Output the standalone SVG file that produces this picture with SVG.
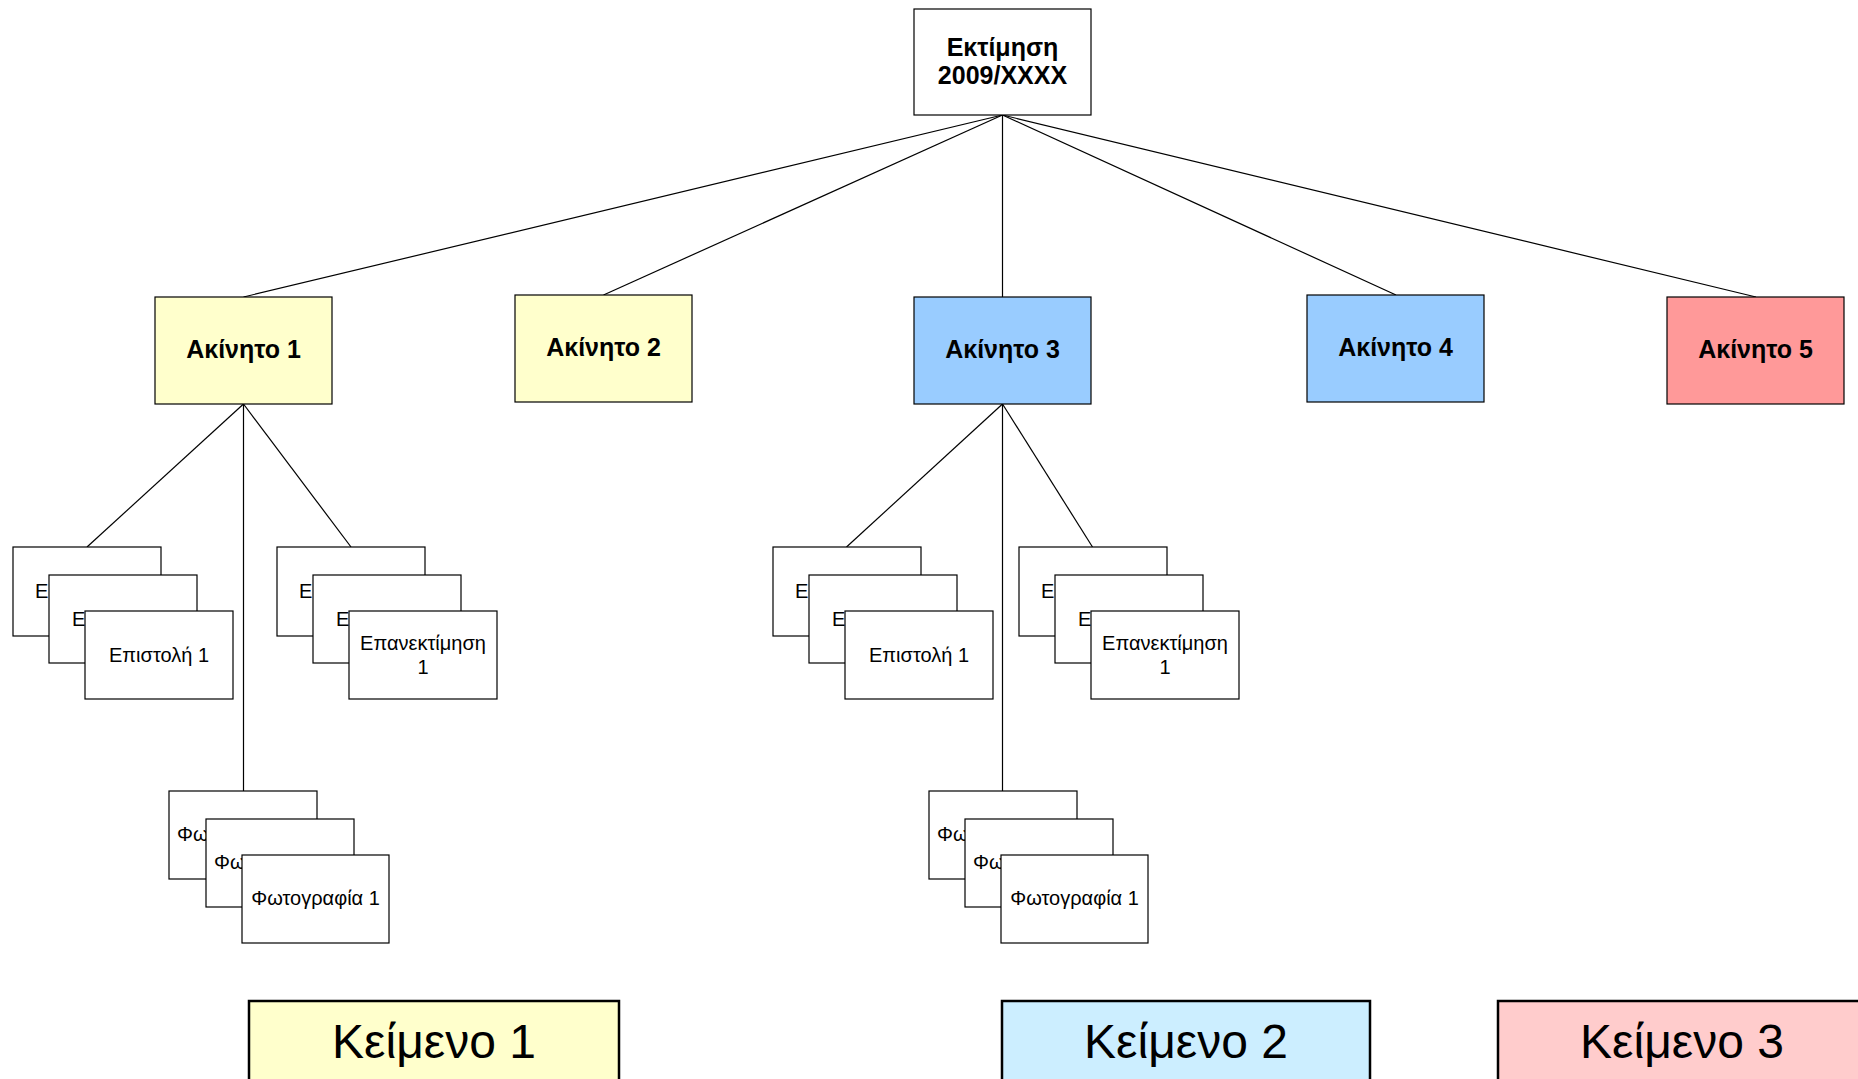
<svg xmlns="http://www.w3.org/2000/svg" width="1858" height="1079" viewBox="0 0 1858 1079">
<defs>
<style>
.box{stroke:#000;stroke-width:1.2}
.w{fill:#fff}
.y{fill:#ffffcc}
.b{fill:#99ccff}
.r{fill:#ff9999}
.lg{stroke:#000;stroke-width:2.5}
.t{font-family:"Liberation Sans",Arial,sans-serif;fill:#000}
.bold{font-weight:bold;font-size:25px;text-anchor:middle}
.sm{font-size:20px}
.mid{text-anchor:middle}
.big{font-size:48px;text-anchor:middle}
.conn line{stroke:#000;stroke-width:1.2}
</style>
</defs>
<rect width="1858" height="1079" fill="#fff"/>
<g id="connectors" class="conn">
<line x1="1002.5" y1="115" x2="243.5" y2="297"/>
<line x1="1002.5" y1="115" x2="603.5" y2="295"/>
<line x1="1002.5" y1="115" x2="1002.5" y2="297"/>
<line x1="1002.5" y1="115" x2="1396" y2="295"/>
<line x1="1002.5" y1="115" x2="1756" y2="297"/>
<line x1="243.5" y1="404" x2="87" y2="547"/>
<line x1="243.5" y1="404" x2="351" y2="547"/>
<line x1="243.5" y1="404" x2="243.5" y2="791"/>
<line x1="1002.5" y1="404" x2="846.5" y2="547"/>
<line x1="1002.5" y1="404" x2="1092.5" y2="547"/>
<line x1="1002.5" y1="404" x2="1002.5" y2="791"/>
</g>
<g id="root">
<rect class="box w" x="914" y="9" width="177" height="106"/>
<text class="t bold" x="1002.5" y="56">Εκτίμηση</text>
<text class="t bold" x="1002.5" y="84">2009/XXXX</text>
</g>
<g id="akinito1">
<rect class="box y" x="155" y="297" width="177" height="107"/>
<text class="t bold" x="243.5" y="358">Ακίνητο 1</text>
</g>
<g id="akinito2">
<rect class="box y" x="515" y="295" width="177" height="107"/>
<text class="t bold" x="603.5" y="356">Ακίνητο 2</text>
</g>
<g id="akinito3">
<rect class="box b" x="914" y="297" width="177" height="107"/>
<text class="t bold" x="1002.5" y="358">Ακίνητο 3</text>
</g>
<g id="akinito4">
<rect class="box b" x="1307" y="295" width="177" height="107"/>
<text class="t bold" x="1395.5" y="356">Ακίνητο 4</text>
</g>
<g id="akinito5">
<rect class="box r" x="1667" y="297" width="177" height="107"/>
<text class="t bold" x="1755.5" y="358">Ακίνητο 5</text>
</g>
<g id="epistoli-stack-1">
<rect class="box w" x="13" y="547" width="148" height="89"/>
<text class="t sm" x="35" y="598">Ε</text>
<rect class="box w" x="49" y="575" width="148" height="88"/>
<text class="t sm" x="72" y="626">Ε</text>
<rect class="box w" x="85" y="611" width="148" height="88"/>
<text class="t sm mid" x="159" y="662">Επιστολή 1</text>
</g>
<g id="epanektimisi-stack-1">
<rect class="box w" x="277" y="547" width="148" height="89"/>
<text class="t sm" x="299" y="598">Ε</text>
<rect class="box w" x="313" y="575" width="148" height="88"/>
<text class="t sm" x="336" y="626">Ε</text>
<rect class="box w" x="349" y="611" width="148" height="88"/>
<text class="t sm mid" x="423" y="650">Επανεκτίμηση</text>
<text class="t sm mid" x="423" y="674">1</text>
</g>
<g id="foto-stack-1">
<rect class="box w" x="169" y="791" width="148" height="88"/>
<text class="t sm" x="177" y="841">Φω</text>
<rect class="box w" x="206" y="819" width="148" height="88"/>
<text class="t sm" x="214" y="869">Φω</text>
<rect class="box w" x="242" y="855" width="147" height="88"/>
<text class="t sm mid" x="315.5" y="905">Φωτογραφία 1</text>
</g>
<g id="epistoli-stack-3">
<rect class="box w" x="773" y="547" width="148" height="89"/>
<text class="t sm" x="795" y="598">Ε</text>
<rect class="box w" x="809" y="575" width="148" height="88"/>
<text class="t sm" x="832" y="626">Ε</text>
<rect class="box w" x="845" y="611" width="148" height="88"/>
<text class="t sm mid" x="919" y="662">Επιστολή 1</text>
</g>
<g id="epanektimisi-stack-3">
<rect class="box w" x="1019" y="547" width="148" height="89"/>
<text class="t sm" x="1041" y="598">Ε</text>
<rect class="box w" x="1055" y="575" width="148" height="88"/>
<text class="t sm" x="1078" y="626">Ε</text>
<rect class="box w" x="1091" y="611" width="148" height="88"/>
<text class="t sm mid" x="1165" y="650">Επανεκτίμηση</text>
<text class="t sm mid" x="1165" y="674">1</text>
</g>
<g id="foto-stack-3">
<rect class="box w" x="929" y="791" width="148" height="88"/>
<text class="t sm" x="937" y="841">Φω</text>
<rect class="box w" x="965" y="819" width="148" height="88"/>
<text class="t sm" x="973" y="869">Φω</text>
<rect class="box w" x="1001" y="855" width="147" height="88"/>
<text class="t sm mid" x="1074.5" y="905">Φωτογραφία 1</text>
</g>
<g id="legend-1">
<rect class="lg" fill="#ffffcc" x="249" y="1001" width="370" height="90"/>
<text class="t big" x="434" y="1058">Κείμενο 1</text>
</g>
<g id="legend-2">
<rect class="lg" fill="#cceeff" x="1002" y="1001" width="368" height="90"/>
<text class="t big" x="1186" y="1058">Κείμενο 2</text>
</g>
<g id="legend-3">
<rect class="lg" fill="#ffcccc" x="1498" y="1001" width="380" height="90"/>
<text class="t big" x="1682" y="1058">Κείμενο 3</text>
</g>
</svg>
